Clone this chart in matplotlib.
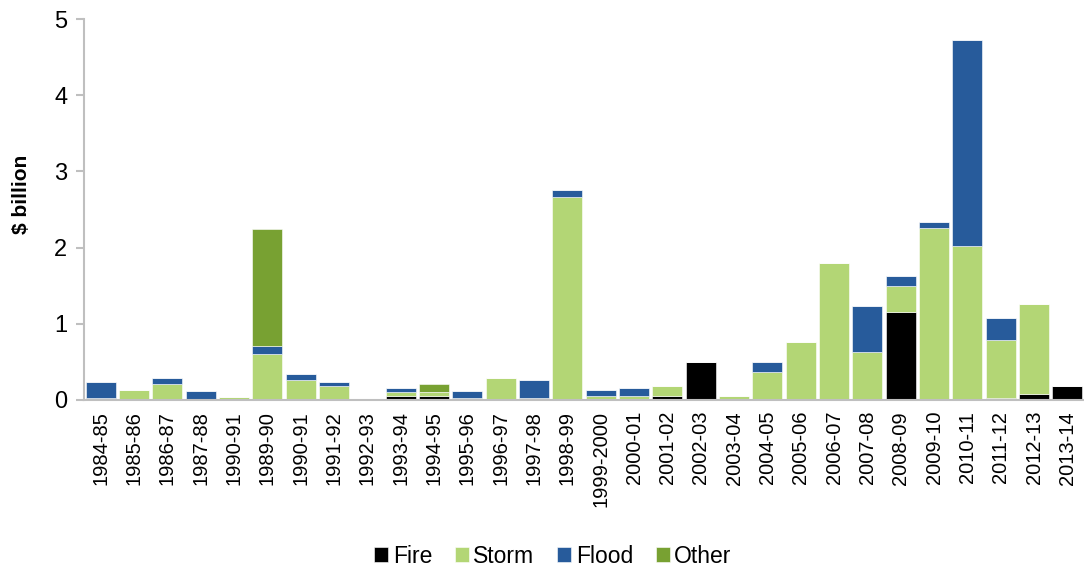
import matplotlib.pyplot as plt
import numpy as np

plt.rcParams['font.family'] = ['Liberation Sans', 'DejaVu Sans']

years = ['1984-85', '1985-86', '1986-87', '1987-88', '1990-91', '1989-90', '1990-91',
         '1991-92', '1992-93', '1993-94', '1994-95', '1995-96', '1996-97', '1997-98',
         '1998-99', '1999-2000', '2000-01', '2001-02', '2002-03', '2003-04', '2004-05',
         '2005-06', '2006-07', '2007-08', '2008-09', '2009-10', '2010-11', '2011-12',
         '2012-13', '2013-14']
fire = [0.03, 0, 0, 0, 0, 0, 0, 0, 0, 0.05, 0.05, 0, 0, 0, 0, 0, 0, 0.05, 0.5, 0,
        0.01, 0, 0, 0, 1.15, 0, 0, 0.03, 0.08, 0.18]
storm = [0, 0.13, 0.21, 0.01, 0.04, 0.6, 0.26, 0.18, 0, 0.05, 0.05, 0.03, 0.29, 0.03,
         2.67, 0.05, 0.05, 0.13, 0, 0.05, 0.36, 0.76, 1.8, 0.63, 0.35, 2.25, 2.02, 0.76,
         1.18, 0]
flood = [0.21, 0, 0.08, 0.1, 0, 0.11, 0.08, 0.06, 0, 0.06, 0, 0.08, 0, 0.23, 0.08,
         0.08, 0.11, 0, 0, 0, 0.13, 0, 0, 0.6, 0.12, 0.08, 2.7, 0.29, 0, 0]
other = [0, 0, 0, 0, 0, 1.53, 0, 0, 0, 0, 0.11, 0, 0, 0, 0, 0, 0, 0, 0, 0, 0, 0, 0,
         0, 0, 0, 0, 0, 0, 0]

fig = plt.figure(figsize=(10.84, 5.68), dpi=100)
ax = fig.add_axes([0.0775, 0.296, 0.9225, 0.6705])

x = np.arange(len(years))
w = 0.9
bottom = np.zeros(len(years))
for vals, col, name in [(fire, '#000000', 'Fire'), (storm, '#B3D675', 'Storm'),
                        (flood, '#275B9B', 'Flood'), (other, '#78A132', 'Other')]:
    ax.bar(x, vals, w, bottom=bottom, color=col, edgecolor='white', linewidth=0.4,
           label=name)
    bottom += np.array(vals)

ax.set_xlim(-0.5, len(years) - 0.5)
ax.set_ylim(0, 5)
ax.set_yticks([0, 1, 2, 3, 4, 5])
ax.set_xticks(x)
ax.set_xticklabels(years, rotation=90, fontsize=14.5)
ax.tick_params(axis='y', labelsize=17, color='#BFBFBF', length=6, width=1.5, pad=6)
ax.tick_params(axis='x', length=0, pad=8)
ax.set_ylabel('$ billion', fontsize=15, fontweight='bold')
ax.yaxis.set_label_coords(-0.053, 0.54)
for s in ['top', 'right']:
    ax.spines[s].set_visible(False)
for s in ['left', 'bottom']:
    ax.spines[s].set_color('#BFBFBF')
    ax.spines[s].set_linewidth(1.5)

ax.legend(loc='center', bbox_to_anchor=(0.469, -0.41), ncol=4, frameon=False,
          fontsize=16.5, handlelength=0.6, handleheight=0.6, handletextpad=0.2,
          columnspacing=1.0, borderaxespad=0)

fig.savefig('out.png', dpi=100)
